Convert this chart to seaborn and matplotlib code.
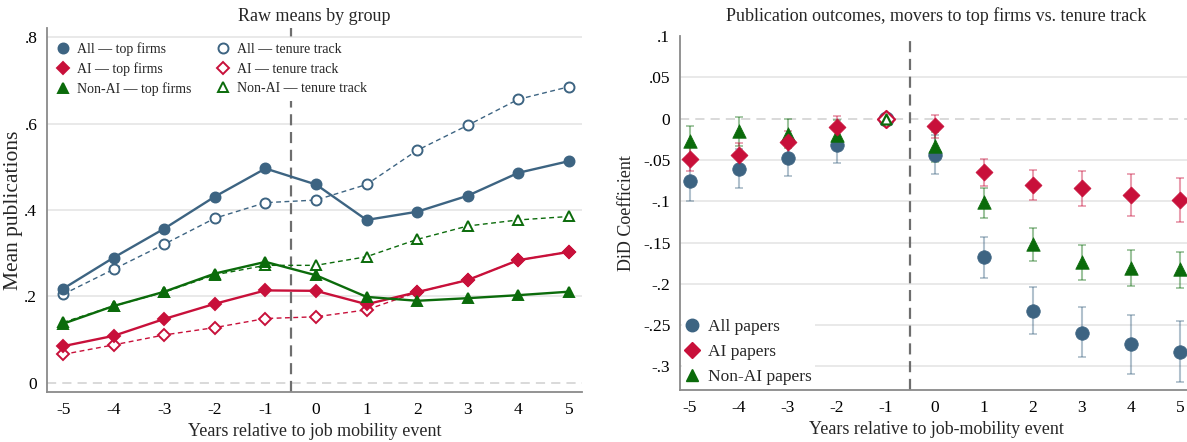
import matplotlib
matplotlib.use("Agg")
import matplotlib.pyplot as plt
from matplotlib.lines import Line2D
import numpy as np
import pandas as pd
import seaborn as sns

# ---------------- data ----------------
years = [-5, -4, -3, -2, -1, 0, 1, 2, 3, 4, 5]

# Raw mean publications per group
all_top = [0.218, 0.290, 0.357, 0.431, 0.496, 0.459, 0.377, 0.396, 0.433, 0.486, 0.513]
all_tenure = [0.205, 0.263, 0.321, 0.381, 0.417, 0.423, 0.459, 0.538, 0.596, 0.656, 0.685]
ai_top = [0.085, 0.109, 0.148, 0.183, 0.214, 0.213, 0.182, 0.210, 0.238, 0.284, 0.303]
ai_tenure = [0.066, 0.088, 0.111, 0.128, 0.149, 0.153, 0.169, 0.210, 0.238, 0.284, 0.303]
nonai_top = [0.137, 0.178, 0.211, 0.253, 0.280, 0.249, 0.199, 0.190, 0.196, 0.203, 0.211]
nonai_tenure = [0.140, 0.178, 0.210, 0.250, 0.272, 0.272, 0.292, 0.332, 0.363, 0.377, 0.385]

# Event-study DiD coefficients with 95% CI (reference year -1 = 0)
coef_all = [-0.0758, -0.0605, -0.0476, -0.0315, 0.0, -0.0435, -0.1677, -0.2327, -0.2589, -0.2730, -0.2823]
lo_all = [-0.1000, -0.0839, -0.0698, -0.0536, 0.0, -0.0670, -0.1927, -0.2609, -0.2891, -0.3089, -0.3194]
hi_all = [-0.0520, -0.0370, -0.0250, -0.0100, 0.0, -0.0200, -0.1427, -0.2044, -0.2282, -0.2375, -0.2444]
coef_ai = [-0.0488, -0.0444, -0.0286, -0.0105, 0.0, -0.0093, -0.0649, -0.0806, -0.0843, -0.0923, -0.0980]
lo_ai = [-0.0637, -0.0597, -0.0427, -0.0246, 0.0, -0.0240, -0.0819, -0.0988, -0.1052, -0.1173, -0.1250]
hi_ai = [-0.0335, -0.0294, -0.0145, 0.0036, 0.0, 0.0048, -0.0488, -0.0617, -0.0633, -0.0665, -0.0718]
coef_non = [-0.0266, -0.0153, -0.0185, -0.0194, 0.0, -0.0335, -0.1012, -0.1516, -0.1734, -0.1806, -0.1823]
lo_non = [-0.0450, -0.0330, -0.0360, -0.0370, 0.0, -0.0520, -0.1206, -0.1722, -0.1952, -0.2032, -0.2056]
hi_non = [-0.0085, 0.0020, -0.0010, -0.0020, 0.0, -0.0160, -0.0839, -0.1323, -0.1532, -0.1589, -0.1609]

left_yticks = [0, 0.2, 0.4, 0.6, 0.8]
left_yticklabels = ["0", ".2", ".4", ".6", ".8"]
right_yticks = [0.1, 0.05, 0, -0.05, -0.1, -0.15, -0.2, -0.25, -0.3]
right_yticklabels = [".1", ".05", "0", "-.05", "-.1", "-.15", "-.2", "-.25", "-.3"]
ref_year = -1

# ---------------- style ----------------
sns.set_theme(style="white")
plt.rcParams["font.family"] = ["Liberation Serif", "DejaVu Serif"]
plt.rcParams["mathtext.fontset"] = "stix"

BLUE = "#3d6482"
RED = "#c8103a"
GREEN = "#0b6b0b"
SPINE = "#8a8a8a"
GRID = "#e3e3e3"

W, H = 1187, 442
fig = plt.figure(figsize=(W / 100, H / 100), dpi=100)
fig.patch.set_facecolor("white")


def px_axes(left, top, right, bottom):
    return fig.add_axes([left / W, 1 - bottom / H, (right - left) / W, (bottom - top) / H])


def style_axes(ax):
    for s in ("top", "right"):
        ax.spines[s].set_visible(False)
    for s in ("left", "bottom"):
        ax.spines[s].set_color(SPINE)
        ax.spines[s].set_linewidth(1.3)
    ax.tick_params(axis="both", direction="out", length=4.5, width=1.0, color=SPINE,
                   labelsize=12.5, pad=2.5, labelcolor="black")
    ax.set_xticks(years)
    ax.set_xticklabels([str(y) for y in years])


# ---------------- left panel: raw means ----------------
axL = px_axes(47, 28, 582, 392)
style_axes(axL)
axL.set_xlim(-5.32, 5.26)
axL.set_ylim(-0.021, 0.821)
for g in [0.2, 0.4, 0.6, 0.8]:
    axL.axhline(g, color=GRID, lw=1.1, zorder=0)
axL.axhline(0, color="#cfcfcf", lw=1.1, ls=(0, (6, 4)), zorder=0)
axL.axvline(-0.5, color="#6e6e6e", lw=1.6, ls=(0, (5, 3)), zorder=1)

raw = pd.DataFrame({
    "year": years * 6,
    "value": all_top + all_tenure + ai_top + ai_tenure + nonai_top + nonai_tenure,
    "series": (["All — top firms"] * 11 + ["All — tenure track"] * 11 +
               ["AI — top firms"] * 11 + ["AI — tenure track"] * 11 +
               ["Non-AI — top firms"] * 11 + ["Non-AI — tenure track"] * 11),
})

spec = {
    "All — tenure track": dict(color=BLUE, marker="o", ms=7.2, filled=False, dashed=True),
    "AI — tenure track": dict(color=RED, marker="D", ms=6.4, filled=False, dashed=True),
    "Non-AI — tenure track": dict(color=GREEN, marker="^", ms=6.6, filled=False, dashed=True),
    "All — top firms": dict(color=BLUE, marker="o", ms=7.2, filled=True, dashed=False),
    "AI — top firms": dict(color=RED, marker="D", ms=6.4, filled=True, dashed=False),
    "Non-AI — top firms": dict(color=GREEN, marker="^", ms=7.2, filled=True, dashed=False),
}

for name, sp in spec.items():
    d = raw[raw["series"] == name]
    sns.lineplot(data=d, x="year", y="value", ax=axL, color=sp["color"],
                 lw=1.0 if sp["dashed"] else 1.7,
                 linestyle=(0, (3.5, 2.5)) if sp["dashed"] else "-",
                 marker=sp["marker"], markersize=sp["ms"],
                 markerfacecolor=sp["color"] if sp["filled"] else "white",
                 markeredgecolor=sp["color"], markeredgewidth=1.4,
                 legend=False, zorder=3 if sp["filled"] else 2)

axL.set_yticks(left_yticks)
axL.set_yticklabels(left_yticklabels)
axL.set_xlabel("Years relative to job mobility event", fontsize=13, labelpad=4)
axL.set_ylabel("Mean publications", fontsize=15.5, labelpad=1)
axL.set_title("Raw means by group", fontsize=13, pad=5)


def handle(sp):
    return Line2D([], [], ls="none", marker=sp["marker"], markersize=sp["ms"],
                  markerfacecolor=sp["color"] if sp["filled"] else "white",
                  markeredgecolor=sp["color"], markeredgewidth=1.4)


order = ["All — top firms", "AI — top firms", "Non-AI — top firms",
         "All — tenure track", "AI — tenure track", "Non-AI — tenure track"]
legL = axL.legend([handle(spec[k]) for k in order], order, ncol=2, loc="upper left",
                  bbox_to_anchor=(0.0, 0.985), fontsize=10, frameon=True,
                  facecolor="white", edgecolor="none", framealpha=1,
                  handlelength=1.0, handletextpad=0.5, columnspacing=1.8,
                  labelspacing=0.45, borderpad=0.35, borderaxespad=0.3)

# ---------------- right panel: DiD coefficients ----------------
axR = px_axes(680, 36, 1192, 390)
style_axes(axR)
axR.set_xlim(-5.2, 5.25)
axR.set_ylim(-0.3285, 0.1)
for g in [0.05, -0.05, -0.1, -0.15, -0.2, -0.25, -0.3]:
    axR.axhline(g, color=GRID, lw=1.1, zorder=0)
axR.axhline(0, color="#cfcfcf", lw=1.1, ls=(0, (6, 4)), zorder=0)
axR.axvline(-0.5, color="#6e6e6e", lw=1.6, ls=(0, (5, 3)), zorder=1)

did = pd.DataFrame({
    "year": years * 3,
    "coef": coef_all + coef_non + coef_ai,
    "lo": lo_all + lo_non + lo_ai,
    "hi": hi_all + hi_non + hi_ai,
    "group": ["All papers"] * 11 + ["Non-AI papers"] * 11 + ["AI papers"] * 11,
})
gspec = {
    "All papers": dict(color=BLUE, marker="o", s=95),
    "Non-AI papers": dict(color=GREEN, marker="^", s=95),
    "AI papers": dict(color=RED, marker="D", s=75),
}
for name, sp in gspec.items():
    d = did[(did["group"] == name) & (did["year"] != ref_year)]
    axR.errorbar(d["year"], d["coef"], yerr=[d["coef"] - d["lo"], d["hi"] - d["coef"]],
                 fmt="none", ecolor=sp["color"], alpha=0.4, elinewidth=1.5,
                 capsize=3.2, capthick=1.3, zorder=2)
for name, sp in gspec.items():
    d = did[(did["group"] == name) & (did["year"] != ref_year)]
    sns.scatterplot(data=d, x="year", y="coef", ax=axR, color=sp["color"],
                    marker=sp["marker"], s=sp["s"], edgecolor=sp["color"],
                    linewidth=0.5, legend=False, zorder=4)
# reference year shown hollow
for name in ["All papers", "AI papers", "Non-AI papers"]:
    sp = gspec[name]
    d = did[(did["group"] == name) & (did["year"] == ref_year)]
    sns.scatterplot(data=d, x="year", y="coef", ax=axR, marker=sp["marker"],
                    s=sp["s"] * (0.55 if name == "Non-AI papers" else 1.0),
                    facecolor="white", edgecolor=sp["color"], linewidth=1.6,
                    legend=False, zorder=5)

axR.set_yticks(right_yticks)
axR.set_yticklabels(right_yticklabels)
axR.set_xlabel("Years relative to job-mobility event", fontsize=13, labelpad=4)
axR.set_ylabel("DiD Coefficient", fontsize=13, labelpad=6)
axR.set_title("Publication outcomes, movers to top firms vs. tenure track", fontsize=13, pad=11)

rhandles = [Line2D([], [], ls="none", marker=gspec[k]["marker"],
                   markersize=9 if k != "AI papers" else 8.5,
                   markerfacecolor=gspec[k]["color"], markeredgecolor=gspec[k]["color"])
            for k in ["All papers", "AI papers", "Non-AI papers"]]
axR.legend(rhandles, ["All papers", "AI papers", "Non-AI papers"], loc="lower left",
           bbox_to_anchor=(0.0, 0.0), fontsize=12.5, frameon=True, facecolor="white",
           edgecolor="none", framealpha=1, handlelength=0.8, handletextpad=0.5,
           labelspacing=0.5, borderpad=0.2, borderaxespad=0.1)

fig.savefig("out.png", dpi=100, facecolor="white")
